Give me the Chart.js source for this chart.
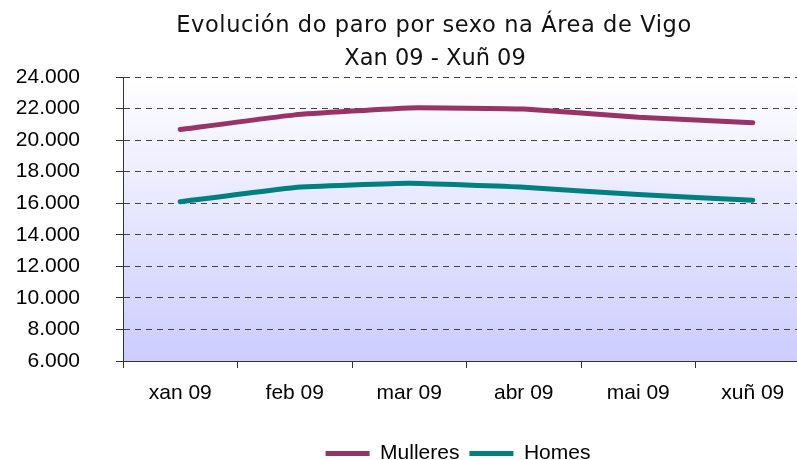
<!DOCTYPE html>
<html>
<head>
<meta charset="utf-8">
<script src="https://cdn.jsdelivr.net/npm/chart.js@4.4.1/dist/chart.umd.min.js"></script>
<style>
  html, body { margin: 0; padding: 0; background: #fff; overflow: hidden; }
  #wrap { width: 916px; height: 480px; position: relative; }
</style>
</head>
<body>
<div id="wrap"><canvas id="chart"></canvas></div>
<script>
// Data
const months = ['xan 09', 'feb 09', 'mar 09', 'abr 09', 'mai 09', 'xuñ 09'];
const mulleres = [20670, 21600, 22040, 21970, 21450, 21100];
const homes = [16090, 17000, 17260, 17010, 16550, 16190];
const yTicks = [6000, 8000, 10000, 12000, 14000, 16000, 18000, 20000, 22000, 24000];
const titleLines = ['Evolución do paro por sexo na Área de Vigo', 'Xan 09 - Xuñ 09'];

// thousands with a dot, like 24.000
function fmt(v) {
  return String(v).replace(/\B(?=(\d{3})+(?!\d))/g, '.');
}

// gradient plot background, white at top to lavender at bottom
const plotBg = {
  id: 'plotBg',
  beforeDraw(chart) {
    const { ctx, chartArea: a } = chart;
    const g = ctx.createLinearGradient(0, a.top, 0, a.bottom);
    g.addColorStop(0, '#ffffff');
    g.addColorStop(1, '#ccccff');
    ctx.save();
    ctx.fillStyle = g;
    ctx.fillRect(a.left, a.top, a.right - a.left, a.bottom - a.top);
    ctx.restore();
  }
};

// two-line title
const titlePlugin = {
  id: 'twoLineTitle',
  afterDraw(chart) {
    const ctx = chart.ctx;
    ctx.save();
    ctx.fillStyle = '#111';
    ctx.font = '22.5px "DejaVu Sans"';
    ctx.textAlign = 'center';
    ctx.textBaseline = 'alphabetic';
    ctx.letterSpacing = '0.6px';
    ctx.fillText(titleLines[0], 434, 32);
    ctx.letterSpacing = '0px';
    ctx.fillText(titleLines[1], 435, 65);
    ctx.restore();
  }
};

const axisFont = { family: '"Liberation Sans", Arial, sans-serif', size: 21 };

const ctx = document.getElementById('chart').getContext('2d');

new Chart(ctx, {
  type: 'line',
  data: {
    labels: months,
    datasets: [
      {
        label: 'Mulleres',
        data: mulleres,
        borderColor: '#993366',
        backgroundColor: '#993366',
        borderWidth: 5,
        borderCapStyle: 'round',
        borderJoinStyle: 'round',
        pointRadius: 0,
        tension: 0.1,
        fill: false,
        yAxisID: 'y'
      },
      {
        label: 'Homes',
        data: homes,
        borderColor: '#008080',
        backgroundColor: '#008080',
        borderWidth: 5,
        borderCapStyle: 'round',
        borderJoinStyle: 'round',
        pointRadius: 0,
        tension: 0.1,
        fill: false,
        yAxisID: 'y'
      }
    ]
  },
  options: {
    responsive: true,
    maintainAspectRatio: false,
    animation: false,
    layout: {
      padding: { top: 77, right: 0, bottom: 6, left: 0 }
    },
    plugins: {
      title: { display: false },
      tooltip: { enabled: false },
      legend: {
        display: true,
        position: 'bottom',
        labels: {
          usePointStyle: true,
          pointStyle: 'line',
          pointStyleWidth: 44,
          color: '#000',
          padding: 10,
          font: axisFont
        }
      }
    },
    scales: {
      x: {
        offset: true,
        grid: {
          offset: true,
          drawOnChartArea: false,
          tickLength: 7,
          color: '#333'
        },
        border: { color: '#333', width: 1 },
        ticks: {
          color: '#000',
          padding: 13,
          maxRotation: 0,
          font: axisFont
        },
        afterFit(scale) { scale.height = 72; }
      },
      y: {
        min: 6000,
        max: 24000,
        afterBuildTicks(scale) {
          scale.ticks = yTicks.map(v => ({ value: v }));
        },
        grid: {
          color: '#444',
          tickLength: 7,
          tickBorderDash: [],
          tickColor: '#333'
        },
        border: { color: '#333', width: 1, dash: [6, 5] },
        ticks: {
          color: '#000',
          padding: 36,
          callback: v => fmt(v),
          font: axisFont
        },
        afterFit(scale) { scale.width = 123; }
      },
      // empty right-hand axis, only there to keep room past the cropped edge
      yPad: {
        position: 'right',
        display: true,
        min: 6000,
        max: 24000,
        grid: { display: false },
        border: { display: false },
        ticks: { display: false },
        afterFit(scale) { scale.width = 106; }
      }
    }
  },
  plugins: [plotBg, titlePlugin]
});
</script>
</body>
</html>
